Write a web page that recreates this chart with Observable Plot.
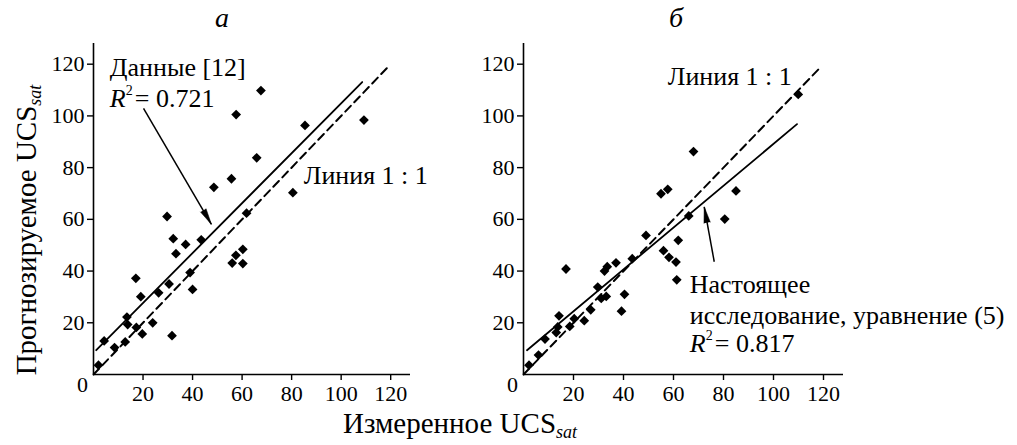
<!DOCTYPE html>
<html><head><meta charset="utf-8">
<script src="https://cdn.jsdelivr.net/npm/d3@7"></script>
<script src="https://cdn.jsdelivr.net/npm/@observablehq/plot@0.6"></script>
<style>
body{margin:0;background:#fff;}
#wrap{position:relative;width:1017px;height:445px;font-family:"Liberation Serif","Times New Roman",serif;color:#000;overflow:hidden}
.abs{position:absolute;white-space:nowrap;line-height:1}
#left{position:absolute;left:0;top:0}
#right{position:absolute;left:460px;top:0}
#wrap svg, #wrap svg text{font-family:"Liberation Serif","Times New Roman",serif}
sub{font-size:0.62em;font-style:italic;vertical-align:-0.3em;line-height:0}
</style></head><body>
<div id="wrap">
  <div id="left"></div>
  <div id="right"></div>
  <div class="abs" style="left:215px;top:4px;font-size:28px;font-style:italic">а</div>
  <div class="abs" style="left:669px;top:4px;font-size:28px;font-style:italic">б</div>
  <div class="abs" style="left:460px;top:409px;font-size:29px;transform:translateX(-50%)">Измеренное UCS<sub>sat</sub></div>
  <div class="abs" style="left:26px;top:230px;font-size:29px;transform:translate(-50%,-50%) rotate(-90deg)">Прогнозируемое UCS<sub>sat</sub></div>
</div>
<script>
// Panel а: data [12]
const measuredA  = [2.0, 4.3, 8.5, 12.8, 13.5, 13.8, 17.3, 17.1, 19.1, 19.7, 23.9, 26.3, 29.7, 30.5, 31.7, 32.2, 33.3, 37.2, 39.0, 40.0, 43.5, 48.6, 55.7, 56.0, 57.6, 57.5, 60.3, 60.3, 61.8, 65.9, 67.6, 80.5, 85.4, 109.2];
const predictedA = [3.6, 13.0, 10.4, 12.6, 22.2, 19.3, 18.2, 37.2, 30.1, 15.7, 20.0, 31.6, 61.1, 35.0, 15.0, 52.5, 46.7, 50.3, 39.4, 32.9, 52.1, 72.4, 75.7, 43.1, 100.5, 46.1, 48.4, 42.9, 62.4, 83.8, 109.8, 70.3, 96.3, 98.4];
// Panel б: present study, eq. (5)
const measuredB  = [2.2, 6.0, 8.6, 13.1, 14.2, 13.7, 17.0, 18.5, 20.3, 24.3, 26.9, 29.7, 31.1, 33.1, 32.4, 33.5, 37.0, 39.2, 40.4, 43.5, 49.0, 55.0, 57.7, 56.0, 58.2, 61.0, 61.9, 61.3, 66.1, 68.0, 80.5, 85.0, 109.9];
const predictedB = [3.6, 7.5, 13.7, 16.2, 22.7, 18.4, 40.8, 18.6, 21.6, 20.8, 25.0, 33.8, 29.4, 30.2, 40.0, 41.7, 43.2, 24.5, 31.0, 44.8, 53.8, 69.9, 71.6, 47.9, 45.3, 43.5, 51.9, 36.6, 61.3, 86.2, 60.1, 71.0, 108.3];
// regression lines (end points) and 1:1 lines
const fitAx = [1.1, 108.5], fitAy = [9.4, 113.1];
const fitBx = [1.4, 109.4], fitBy = [9.4, 96.8];
const oneAx = [0, 119.5], oneAy = [0, 119.5];
const oneBx = [0, 119], oneBy = [0, 119];
const tickValues = [20, 40, 60, 80, 100, 120];
const originLabel = ["0"];
// annotations
const notesA = ["Данные [12]", "Линия 1 : 1"], notesAx = [6.6, 84.9], notesAy = [118.6, 76.8];
const r2A = "= 0.721", r2Ax = 6.6, r2Ay = 106.6;
const arrowA = {x1: 20.2, y1: 102.9, x2: 47.6, y2: 58.1};
const notesB = ["Линия 1 : 1", "Настоящее", "исследование, уравнение (5)"], notesBx = [57.7, 66.5, 66.5], notesBy = [115.1, 34.8, 22.7];
const r2B = "= 0.817", r2Bx = 66.5, r2By = 11.8;
const arrowB = {x1: 76.3, y1: 43.6, x2: 72.3, y2: 64.8};

const style = "font-family: 'Liberation Serif', 'Times New Roman', serif; font-size: 22px; color: black; background: transparent; overflow: visible;";

function panel(o, headRotate) {
  const pts = o.meas.map((m, i) => ({m, p: o.pred[i]}));
  const fit = o.fitX.map((x, i) => ({x, y: o.fitY[i]}));
  const one = o.oneX.map((x, i) => ({x, y: o.oneY[i]}));
  const txt = o.notes.map((t, i) => ({t, x: o.nx[i], y: o.ny[i]}));
  return Plot.plot({
    width: o.width, height: 445, marginLeft: o.marginLeft, marginRight: o.marginRight, marginTop: 43, marginBottom: 71,
    x: {domain: [0, 128]}, y: {domain: [0, 128]},
    style,
    marks: [
      Plot.axisX(tickValues, {tickSize: 6, tickPadding: 5, label: null, strokeWidth: 1.4, fontSize: 22}),
      Plot.axisY(tickValues, {tickSize: 6, tickPadding: 3, label: null, strokeWidth: 1.4, fontSize: 22}),
      Plot.ruleY([0], {strokeWidth: 1.6}),
      Plot.ruleX([0], {strokeWidth: 1.6}),
      Plot.text(originLabel, {x: () => 0, y: () => 0, text: d => d, dx: -11, dy: 10, fontSize: 22}),
      Plot.line(one, {x: "x", y: "y", stroke: "black", strokeWidth: 2, strokeDasharray: "8,5"}),
      Plot.line(fit, {x: "x", y: "y", stroke: "black", strokeWidth: 1.8}),
      Plot.dot(pts, {x: "m", y: "p", symbol: "diamond2", r: 4.4, fill: "black", stroke: "none"}),
      Plot.link([o.arrow], {x1: "x1", y1: "y1", x2: "x2", y2: "y2", stroke: "black", strokeWidth: 1.5}),
      Plot.vector([o.arrow], {x: "x2", y: "y2", rotate: headRotate, length: 16, anchor: "end", shape: "spike", r: 3.2, fill: "black", stroke: "black", strokeWidth: 0.5}),
      Plot.text(txt, {x: "x", y: "y", text: "t", textAnchor: "start", fontSize: 26}),
      Plot.text([o.r2], {x: () => o.r2x, y: () => o.r2y, text: () => "R", textAnchor: "start", fontSize: 26, fontStyle: "italic"}),
      Plot.text([o.r2], {x: () => o.r2x, y: () => o.r2y, text: () => "2", textAnchor: "start", fontSize: 14, dx: 16, dy: -8}),
      Plot.text([o.r2], {x: () => o.r2x, y: () => o.r2y, text: d => d, textAnchor: "start", fontSize: 26, dx: 25})
    ]
  });
}

function render(el, o) {
  // first pass to read the scales, then compute the arrowhead direction in screen space
  const probe = panel(o, 0);
  const sx = probe.scale("x").apply, sy = probe.scale("y").apply;
  const a = o.arrow;
  const ang = Math.atan2(sx(a.x2) - sx(a.x1), -(sy(a.y2) - sy(a.y1))) * 180 / Math.PI;
  el.append(panel(o, ang));
}

render(document.getElementById("left"), {
  meas: measuredA, pred: predictedA, fitX: fitAx, fitY: fitAy, oneX: oneAx, oneY: oneAy,
  width: 460, marginLeft: 93, marginRight: 50,
  notes: notesA, nx: notesAx, ny: notesAy, r2: r2A, r2x: r2Ax, r2y: r2Ay, arrow: arrowA
});
render(document.getElementById("right"), {
  meas: measuredB, pred: predictedB, fitX: fitBx, fitY: fitBy, oneX: oneBx, oneY: oneBy,
  width: 557, marginLeft: 63, marginRight: 174,
  notes: notesB, nx: notesBx, ny: notesBy, r2: r2B, r2x: r2Bx, r2y: r2By, arrow: arrowB
});
</script>
</body></html>
